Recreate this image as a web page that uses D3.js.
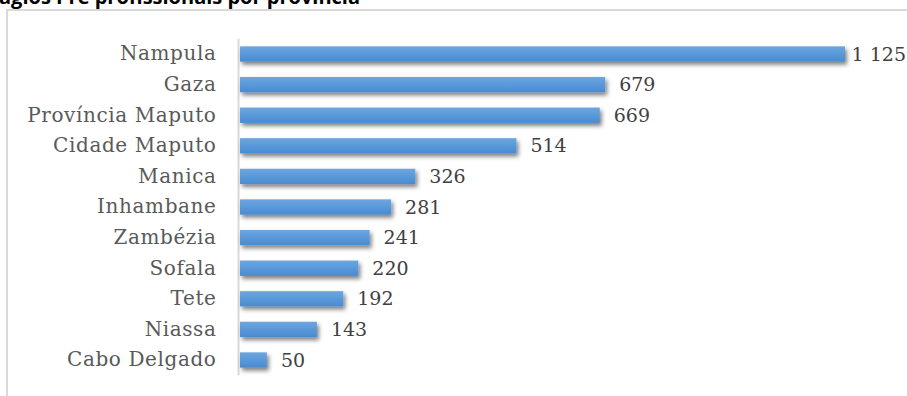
<!DOCTYPE html>
<html>
<head>
<meta charset="utf-8">
<script src="https://cdn.jsdelivr.net/npm/d3@7"></script>
<style>
  html, body { margin: 0; padding: 0; background: #fff; overflow: hidden; }
  svg { display: block; }
</style>
</head>
<body>
<svg id="chart" width="907" height="396"></svg>
<script>
// Estágios pré-profissionais por província
const provinces = ["Nampula", "Gaza", "Província Maputo", "Cidade Maputo", "Manica ", "Inhambane",
                   "Zambézia", "Sofala", "Tete", "Niassa", "Cabo Delgado"];
const interns = [1125, 679, 669, 514, 326, 281, 241, 220, 192, 143, 50];
const title = "Estágios Pré profissionais por província";

const svg = d3.select("#chart");
const defs = svg.append("defs");

const grad = defs.append("linearGradient")
  .attr("id", "barFill").attr("x1", 0).attr("y1", 0).attr("x2", 0).attr("y2", 1);
grad.append("stop").attr("offset", "0%").attr("stop-color", "#6ea6df");
grad.append("stop").attr("offset", "60%").attr("stop-color", "#5596d8");
grad.append("stop").attr("offset", "100%").attr("stop-color", "#4a8bd0");

const shadow = defs.append("filter").attr("id", "barShadow")
  .attr("x", "-10%").attr("y", "-40%").attr("width", "130%").attr("height", "220%");
shadow.append("feDropShadow")
  .attr("dx", 2).attr("dy", 3).attr("stdDeviation", 2.2)
  .attr("flood-color", "#000").attr("flood-opacity", 0.5);

// Title, running off the top edge of the page
svg.append("text")
  .attr("x", 360).attr("y", 4)
  .attr("text-anchor", "end")
  .attr("font-family", "'Open Sans', 'Liberation Sans', sans-serif")
  .attr("font-weight", "bold")
  .attr("font-size", 20)
  .attr("fill", "#000")
  .text(title);

// Chart frame
svg.append("rect")
  .attr("x", 7).attr("y", 10).attr("width", 920).attr("height", 420)
  .attr("fill", "none").attr("stroke", "#d9d9d9").attr("stroke-width", 2);

const x0 = 240;
const x = d3.scaleLinear().domain([0, 1125]).range([x0, 845]);
const y = d3.scaleBand().domain(provinces).range([38.7, 375.3]).paddingInner(0.5).paddingOuter(0.25);

const font = "'Palatino Linotype', 'Book Antiqua', Palatino, 'DejaVu Serif', serif";

// Category axis
const axis = svg.append("g")
  .attr("transform", `translate(${x0 - 1.5},0)`)
  .call(d3.axisLeft(y).tickSize(0).tickPadding(22));
axis.select(".domain").attr("stroke", "#d9d9d9").attr("stroke-width", 2)
  .attr("d", `M0,${y.range()[0]}V${y.range()[1]}`);
axis.selectAll("text")
  .attr("font-family", font).attr("font-size", 20)
  .attr("letter-spacing", 0.6).attr("fill", "#595959");

// Bars
svg.append("g").selectAll("rect")
  .data(provinces)
  .join("rect")
  .attr("x", x(0))
  .attr("y", d => y(d))
  .attr("width", (d, i) => x(interns[i]) - x(0))
  .attr("height", y.bandwidth())
  .attr("fill", "url(#barFill)")
  .attr("filter", "url(#barShadow)");

// Value labels, kept inside the page on the right
const fmt = v => d3.format(",")(v).replace(",", " ");
svg.append("g").selectAll("text")
  .data(provinces)
  .join("text")
  .attr("y", d => y(d) + y.bandwidth() / 2)
  .attr("dy", "0.35em")
  .attr("font-family", font).attr("font-size", 19)
  .attr("fill", "#404040")
  .text((d, i) => fmt(interns[i]))
  .attr("x", function (d, i) {
    const w = this.getComputedTextLength();
    const end = x(interns[i]);
    return Math.min(end + 14, Math.max(end + 6, 906 - w));
  });
</script>
</body>
</html>
